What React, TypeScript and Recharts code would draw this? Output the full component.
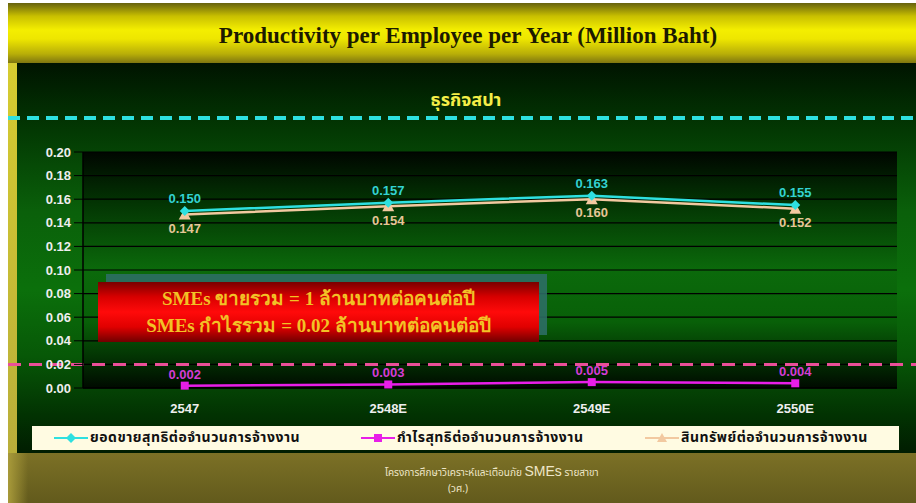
import React from 'react';
import { LineChart, Line, XAxis, YAxis, CartesianGrid, ReferenceLine, LabelList } from 'recharts';

// values (million baht per employee)
const years = ['2547', '2548E', '2549E', '2550E'];
const salesPerEmployee = [0.15, 0.157, 0.163, 0.155];
const profitPerEmployee = [0.002, 0.003, 0.005, 0.004];
const assetsPerEmployee = [0.147, 0.154, 0.16, 0.152];
const yTicks = [0, 0.02, 0.04, 0.06, 0.08, 0.1, 0.12, 0.14, 0.16, 0.18, 0.2];
const benchmarkProfit = 0.02;

const seriesNames = [
  'ยอดขายสุทธิต่อจำนวนการจ้างงาน',
  'กำไรสุทธิต่อจำนวนการจ้างงาน',
  'สินทรัพย์ต่อจำนวนการจ้างงาน',
];
const noteLines = [
  'SMEs ขายรวม = 1 ล้านบาทต่อคนต่อปี',
  'SMEs กำไรรวม = 0.02 ล้านบาทต่อคนต่อปี',
];
const titleText = 'Productivity per Employee per Year (Million Baht)';
const subtitleText = 'ธุรกิจสปา';
const footerLine = 'โครงการศึกษาวิเคราะห์และเตือนภัย';
const footerTail = 'รายสาขา';
const footerAgency = '(วศ.)';

const data = years.map((year, i) => ({
  year,
  sales: salesPerEmployee[i],
  profit: profitPerEmployee[i],
  assets: assetsPerEmployee[i],
}));

const CYAN = '#2ee0e0';
const MAGENTA = '#e81ee8';
const TAN = '#f2c9a0';
const THAI = "Tahoma, 'Noto Sans Thai', 'Loma', 'Garuda', 'DejaVu Sans', sans-serif";
const ARIAL = "'Liberation Sans', Arial, sans-serif";
const SERIF = "'Liberation Serif', 'Times New Roman', serif";

const Diamond = (p: any) => {
  const { cx, cy, index } = p;
  if (cx == null || cy == null) return <g key={`dm-${index}`} />;
  const s = 5;
  return (
    <polygon key={`dm-${index}`} points={`${cx},${cy - s} ${cx + s},${cy} ${cx},${cy + s} ${cx - s},${cy}`} fill={CYAN} />
  );
};

const Square = (p: any) => {
  const { cx, cy, index } = p;
  if (cx == null || cy == null) return <g key={`sq-${index}`} />;
  return <rect key={`sq-${index}`} x={cx - 4} y={cy - 4} width={8} height={8} fill={MAGENTA} />;
};

const Triangle = (p: any) => {
  const { cx, cy, index } = p;
  if (cx == null || cy == null) return <g key={`tr-${index}`} />;
  return (
    <polygon key={`tr-${index}`} points={`${cx},${cy - 6} ${cx + 6},${cy + 5} ${cx - 6},${cy + 5}`} fill={TAN} />
  );
};

const PinkDash = (p: any) => (
  <line x1={8} x2={916} y1={p.y1} y2={p.y2} stroke="#ea4f98" strokeWidth={3} strokeDasharray="13 8" />
);

const LegendIcon = ({ color, shape }: { color: string; shape: string }) => (
  <svg width={34} height={12} style={{ verticalAlign: 'middle' }}>
    <line x1={0} x2={34} y1={6} y2={6} stroke={color} strokeWidth={2} />
    {shape === 'diamond' && <polygon points="17,1 22,6 17,11 12,6" fill={color} />}
    {shape === 'square' && <rect x={13} y={2} width={8} height={8} fill={color} />}
    {shape === 'triangle' && <polygon points="17,1 22,10 12,10" fill={color} />}
  </svg>
);

const legendItems = [
  { name: seriesNames[0], color: CYAN, shape: 'diamond', left: 54 },
  { name: seriesNames[1], color: MAGENTA, shape: 'square', left: 361 },
  { name: seriesNames[2], color: TAN, shape: 'triangle', left: 645 },
];

const fmt = (v: any) => Number(v).toFixed(3);

export default function App() {
  return (
    <div style={{ position: 'absolute', left: 0, top: 0, width: 916, height: 503, background: '#fff', overflow: 'hidden' }}>
      {/* slide frame */}
      <div
        style={{
          position: 'absolute', left: 8, top: 3, width: 908, height: 60,
          background: 'linear-gradient(#66620e 0%, #c9c000 22%, #f4ee00 45%, #eee600 60%, #b8ae08 85%, #7e7610 100%)',
        }}
      />
      <div style={{ position: 'absolute', left: 8, top: 63, width: 9, height: 390, background: 'linear-gradient(#d6cc30, #b9ae3a)' }} />
      <div
        style={{
          position: 'absolute', left: 17, top: 63, width: 899, height: 390,
          background: 'linear-gradient(#001400 0%, #033a03 18%, #0a600a 38%, #0b700b 58%, #075807 75%, #023302 90%, #011d01 100%)',
        }}
      />
      <div style={{ position: 'absolute', left: 8, top: 453, width: 908, height: 50, background: 'linear-gradient(#7c7126, #625a1c)' }} />
      <div style={{ position: 'absolute', left: 8, top: 453, width: 20, height: 50, background: 'linear-gradient(90deg, #a89a3a, rgba(124,113,38,0))' }} />

      <div
        style={{
          position: 'absolute', left: 0, width: 936, top: 21, textAlign: 'center',
          fontFamily: SERIF, fontWeight: 'bold', fontSize: 23, color: '#1c1a00', lineHeight: '30px',
        }}
      >
        {titleText}
      </div>
      <div
        style={{
          position: 'absolute', left: 0, width: 932, top: 88, textAlign: 'center',
          fontFamily: THAI, fontWeight: 'bold', fontSize: 18, color: '#f4ee48', lineHeight: '26px',
        }}
      >
        {subtitleText}
      </div>
      <svg style={{ position: 'absolute', left: 0, top: 0 }} width={916} height={130}>
        <line x1={8} x2={916} y1={118} y2={118} stroke={CYAN} strokeWidth={4} strokeDasharray="12 7" />
      </svg>

      <div style={{ position: 'absolute', left: 0, top: 0 }}>
        <LineChart width={916} height={503} data={data} margin={{ top: 152, right: 19, bottom: 85, left: 17 }}>
          <defs>
            <linearGradient id="plotBg" x1="0" y1="0" x2="0" y2="1">
              <stop offset="0%" stopColor="#000600" />
              <stop offset="22%" stopColor="#033503" />
              <stop offset="50%" stopColor="#0b6a0b" />
              <stop offset="72%" stopColor="#086008" />
              <stop offset="90%" stopColor="#022a02" />
              <stop offset="100%" stopColor="#000a00" />
            </linearGradient>
          </defs>
          <CartesianGrid vertical={false} stroke="#000" strokeWidth={1.2} fill="url(#plotBg)" fillOpacity={1} />
          <XAxis
            dataKey="year"
            scale="band"
            height={30}
            axisLine={{ stroke: '#000', strokeWidth: 1.5 }}
            tickLine={false}
            tickMargin={10}
            tick={{ fill: '#eeeeee', fontSize: 13, fontWeight: 'bold', fontFamily: ARIAL }}
          />
          <XAxis xAxisId="top" orientation="top" dataKey="year" scale="band" height={0} tick={false} tickLine={false} axisLine={{ stroke: '#9a9a9a' }} />
          <YAxis
            width={66}
            domain={[0, 0.2]}
            ticks={yTicks}
            interval={0}
            tickFormatter={(v: number) => v.toFixed(2)}
            axisLine={{ stroke: '#000', strokeWidth: 1.5 }}
            tickLine={{ stroke: '#000' }}
            tickSize={9}
            tickMargin={3}
            tick={{ fill: '#eeeeee', fontSize: 13, fontWeight: 'bold', fontFamily: ARIAL }}
          />
          <YAxis yAxisId="right" orientation="right" width={0} domain={[0, 0.2]} tick={false} tickLine={false} axisLine={{ stroke: '#9a9a9a' }} />

          <Line
            dataKey="assets"
            name={seriesNames[2]}
            stroke={TAN}
            strokeWidth={2.5}
            dot={Triangle}
            activeDot={false}
            isAnimationActive={false}
          >
            <LabelList dataKey="assets" position="bottom" offset={9} formatter={fmt} fill="#e6c696" fontSize={13} fontWeight="bold" fontFamily={ARIAL} />
          </Line>
          <Line
            dataKey="sales"
            name={seriesNames[0]}
            stroke={CYAN}
            strokeWidth={2.5}
            dot={Diamond}
            activeDot={false}
            isAnimationActive={false}
          >
            <LabelList dataKey="sales" position="top" offset={8} formatter={fmt} fill="#33d2d2" fontSize={13} fontWeight="bold" fontFamily={ARIAL} />
          </Line>
          <Line
            dataKey="profit"
            name={seriesNames[1]}
            stroke={MAGENTA}
            strokeWidth={2.5}
            dot={Square}
            activeDot={false}
            isAnimationActive={false}
          >
            <LabelList dataKey="profit" position="top" offset={7} formatter={fmt} fill="#d43cd4" fontSize={13} fontWeight="bold" fontFamily={ARIAL} />
          </Line>
          <ReferenceLine y={benchmarkProfit} shape={PinkDash} ifOverflow="visible" />
        </LineChart>
      </div>

      {/* benchmark note */}
      <div style={{ position: 'absolute', left: 106, top: 274, width: 441, height: 61, background: '#2f6e6a', opacity: 0.85 }} />
      <div
        style={{
          position: 'absolute', left: 98, top: 282, width: 441, height: 60,
          background: 'linear-gradient(#7a0000 0%, #d80000 25%, #ff0a0a 50%, #e00000 75%, #700000 100%)',
          display: 'flex', flexDirection: 'column', justifyContent: 'center', alignItems: 'center',
          fontFamily: SERIF, fontWeight: 'bold', fontSize: 19, color: '#f2c226', lineHeight: '27px',
        }}
      >
        {noteLines.map((l) => (
          <div key={l}>{l}</div>
        ))}
      </div>

      {/* legend */}
      <div style={{ position: 'absolute', left: 32, top: 426, width: 867, height: 24, background: '#fffbe2' }} />
      {legendItems.map((it) => (
        <div
          key={it.name}
          style={{
            position: 'absolute', left: it.left, top: 426, height: 24, lineHeight: '24px', whiteSpace: 'nowrap',
            fontFamily: THAI, fontWeight: 'bold', fontSize: 14, letterSpacing: 0.5, color: '#111',
          }}
        >
          <LegendIcon color={it.color} shape={it.shape} />
          <span style={{ marginLeft: 2 }}>{it.name}</span>
        </div>
      ))}

      {/* footer */}
      <div
        style={{
          position: 'absolute', left: 385, top: 463, whiteSpace: 'nowrap',
          fontFamily: THAI, fontSize: 10, color: '#eee6c8', lineHeight: '16px',
        }}
      >
        {footerLine} <span style={{ fontFamily: ARIAL, fontSize: 14 }}>SMEs</span> {footerTail}
      </div>
      <div
        style={{
          position: 'absolute', left: 0, width: 916, top: 482, textAlign: 'center',
          fontFamily: THAI, fontSize: 10, color: '#eee6c8', lineHeight: '14px',
        }}
      >
        {footerAgency}
      </div>
    </div>
  );
}
